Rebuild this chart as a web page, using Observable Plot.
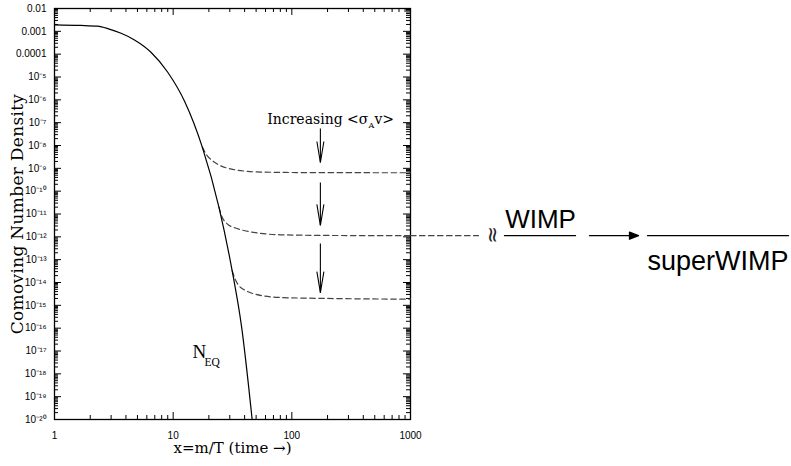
<!DOCTYPE html>
<html>
<head>
<meta charset="utf-8">
<script src="https://cdn.jsdelivr.net/npm/d3@7"></script>
<script src="https://cdn.jsdelivr.net/npm/@observablehq/plot@0.6"></script>
<style>
  html, body { margin: 0; padding: 0; background: #fff; }
  #chart svg { display: block; }
  .ylab text { letter-spacing: 0.3px; }
</style>
</head>
<body>
<div id="chart"></div>
<script>
// ---- axis ticks ----
const xMajor = [1, 10, 100, 1000];
const xLabels = ["1", "10", "100", "1000"];
const yMajor = [1e-20, 1e-19, 1e-18, 1e-17, 1e-16, 1e-15, 1e-14, 1e-13, 1e-12, 1e-11,
                1e-10, 1e-9, 1e-8, 1e-7, 1e-6, 1e-5, 1e-4, 1e-3, 1e-2];
const yLabels = ["10⁻²⁰", "10⁻¹⁹", "10⁻¹⁸", "10⁻¹⁷", "10⁻¹⁶", "10⁻¹⁵", "10⁻¹⁴", "10⁻¹³", "10⁻¹²", "10⁻¹¹",
                 "10⁻¹⁰", "10⁻⁹", "10⁻⁸", "10⁻⁷", "10⁻⁶", "10⁻⁵", "0.0001", "0.001", "0.01"];
const minorMultipliers = [2, 3, 4, 5, 6, 7, 8, 9];

// ---- equilibrium curve N_EQ (solid) ----
const eqX = [1, 1.66, 2.3, 2.85, 3.6, 4.72, 6.5, 9.0, 12.5, 17.6, 24.3, 31.4, 37.7, 46.3];
const eqY = [1.93e-3, 1.82e-3, 1.68e-3, 1.29e-3, 8.4e-4, 4.2e-4, 1.22e-4, 1.62e-5, 8.5e-7, 8.5e-9,
             2e-11, 3.3e-14, 1.17e-16, 1e-20];

// ---- freeze-out curves (dashed) ----
const fo1X = [17.6, 19.2, 21.3, 25, 30.4, 45, 58, 150, 1000];
const fo1Y = [8.5e-9, 3.8e-9, 2.2e-9, 1.3e-9, 9.5e-10, 7.2e-10, 6.8e-10, 6.5e-10, 6.4e-10];
const fo2X = [24.3, 25.9, 28.5, 33, 39.4, 80, 200, 1000];
const fo2Y = [2e-11, 7.2e-12, 3.7e-12, 2.5e-12, 1.9e-12, 1.23e-12, 1.15e-12, 1.12e-12];
const fo3X = [31.4, 33.3, 35.7, 40, 47.8, 80, 200, 1000];
const fo3Y = [3.3e-14, 1.4e-14, 7.4e-15, 4.7e-15, 3.2e-15, 2.2e-15, 2.0e-15, 1.86e-15];

// ---- "Increasing <σ_A v>" arrows ----
const arrowX = [174, 174, 174];
const arrowTop = [5.5e-8, 2.4e-10, 5.1e-13];
const arrowTip = [1.8e-9, 3.2e-12, 3.6e-15];

// ---- build tables ----
const xMinor = xMajor.slice(0, -1).flatMap(d => minorMultipliers.map(k => d * k));
const yMinor = yMajor.slice(0, -1).flatMap(d => minorMultipliers.map(k => d * k));
const toPts = (X, Y) => X.map((x, i) => ({x, y: Y[i]}));
const eq = toPts(eqX, eqY);
const fo = [toPts(fo1X, fo1Y), toPts(fo2X, fo2Y), toPts(fo3X, fo3Y)];
const arrows = arrowX.map((x, i) => ({x, y1: arrowTop[i], y2: arrowTip[i]}));
const wimpLevel = fo2Y[fo2Y.length - 1];
const xMax = xMajor[xMajor.length - 1];

const W = 791, H = 466, ML = 54, MR = 381, MT = 8, MB = 47;
const FW = W - ML - MR, FH = H - MT - MB;
const serif = "DejaVu Serif, serif";
const sans = "Liberation Sans, Arial, Helvetica, sans-serif";
const lineShape = {draw(ctx, l) { ctx.moveTo(0, 0); ctx.lineTo(0, -l); }};
const arrowShape = {draw(ctx, l) {
  ctx.moveTo(0, 0); ctx.lineTo(0, -l + 7);
  ctx.moveTo(-3.5, -l + 9); ctx.lineTo(0, -l); ctx.lineTo(3.5, -l + 9); ctx.closePath();
}};
const vHead = {draw(ctx) { ctx.moveTo(-3.5, -21); ctx.lineTo(0, 0); ctx.lineTo(3.5, -21); }};

// inward ticks (fixed pixel length via insets)
const tk = {stroke: "black", strokeWidth: 1};
const ticksY = (data, len) => [
  Plot.tickY(data, {y: d => d, insetRight: FW - len, ...tk}),
  Plot.tickY(data, {y: d => d, insetLeft: FW - len, ...tk})
];
const ticksX = (data, len) => [
  Plot.tickX(data, {x: d => d, insetTop: FH - len, ...tk}),
  Plot.tickX(data, {x: d => d, insetBottom: FH - len, ...tk})
];

const chart = Plot.plot({
  width: W,
  height: H,
  marginLeft: ML,
  marginRight: MR,
  marginTop: MT,
  marginBottom: MB,
  style: {background: "white", color: "black", overflow: "visible"},
  x: {type: "log", domain: [1, 1000]},
  y: {type: "log", domain: [1e-20, 1e-2]},
  marks: [
    ...ticksX(xMajor, 7),
    ...ticksX(xMinor, 4),
    ...ticksY(yMajor, 7),
    ...ticksY(yMinor, 4),
    // tick labels
    Plot.axisX(xMajor, {anchor: "bottom", tickSize: 0, tickPadding: 12, label: null,
      tickFormat: d => xLabels[xMajor.indexOf(d)], fontSize: 10, fontFamily: sans}),
    Plot.axisY(yMajor, {anchor: "left", tickSize: 0, tickPadding: 8, label: null,
      tickFormat: d => yLabels[yMajor.indexOf(d)], fontSize: 10, fontFamily: sans}),
    Plot.frame({stroke: "black", strokeWidth: 1.3}),
    // curves
    ...fo.map(pts => Plot.line(pts, {x: "x", y: "y", curve: "monotone-x", stroke: "#444",
      strokeWidth: 1.2, strokeDasharray: "5.5,3.5"})),
    Plot.line(eq, {x: "x", y: "y", curve: "monotone-x", stroke: "black", strokeWidth: 1.2}),
    // arrows
    Plot.link(arrows, {x1: "x", x2: "x", y1: "y1", y2: "y2", stroke: "black", strokeWidth: 1.1}),
    Plot.dot(arrows, {x: "x", y: "y2", symbol: vHead, r: 4, fill: "none", stroke: "black", strokeWidth: 1.1}),
    // annotations in the plot
    Plot.text(["Increasing <σ"], {x: arrowX[0], y: arrowTop[0], textAnchor: "end", lineAnchor: "bottom",
      dx: 48, dy: -5, fontFamily: serif, fontSize: 14}),
    Plot.text(["A"], {x: arrowX[0], y: arrowTop[0], textAnchor: "start", lineAnchor: "bottom",
      dx: 48, dy: -1, fontFamily: serif, fontSize: 8}),
    Plot.text(["v>"], {x: arrowX[0], y: arrowTop[0], textAnchor: "start", lineAnchor: "bottom",
      dx: 54, dy: -5, fontFamily: serif, fontSize: 14}),
    Plot.text(["N"], {x: 14.55, y: 5.1e-18, textAnchor: "start", lineAnchor: "bottom",
      fontFamily: "Liberation Serif, serif", fontSize: 19}),
    Plot.text(["EQ"], {x: 18.4, y: 2.3e-18, textAnchor: "start", lineAnchor: "bottom",
      fontFamily: "Liberation Serif, serif", fontSize: 11.5}),
    // axis titles
    Plot.text(["Comoving Number Density"], {frameAnchor: "left", textAnchor: "middle", rotate: -90, dx: -37,
      fontFamily: serif, fontSize: 17, className: "ylab"}),
    Plot.text(["x=m/T (time →)"], {frameAnchor: "bottom", textAnchor: "middle", dy: 33, fontFamily: serif, fontSize: 15}),
    // right-hand annotation: WIMP → superWIMP
    Plot.vector([0], {x: () => xMax, y: () => wimpLevel, rotate: 90, length: 68, anchor: "start",
      shape: lineShape, stroke: "#444", strokeWidth: 1.2, strokeDasharray: "5.5,3.5"}),
    Plot.text(["≈"], {x: () => xMax, y: () => wimpLevel, dx: 82, dy: -1, rotate: 90, fontSize: 21,
      fontFamily: "DejaVu Sans, sans-serif", fill: "#222"}),
    Plot.vector([0], {x: () => xMax, y: () => wimpLevel, rotate: 90, length: 71, anchor: "start",
      dx: 94, shape: lineShape, stroke: "black", strokeWidth: 1.3}),
    Plot.text(["WIMP"], {x: () => xMax, y: () => wimpLevel, dx: 130, dy: -8, lineAnchor: "bottom",
      fontFamily: sans, fontSize: 26}),
    Plot.vector([0], {x: () => xMax, y: () => wimpLevel, rotate: 90, length: 49, anchor: "start",
      dx: 179, shape: arrowShape, stroke: "black", fill: "black", strokeWidth: 1.3}),
    Plot.vector([0], {x: () => xMax, y: () => wimpLevel, rotate: 90, length: 141, anchor: "start",
      dx: 237, shape: lineShape, stroke: "black", strokeWidth: 1.3}),
    Plot.text(["superWIMP"], {x: () => xMax, y: () => wimpLevel, dx: 307.5, dy: 34, lineAnchor: "bottom",
      fontFamily: sans, fontSize: 27})
  ]
});
document.getElementById("chart").appendChild(chart);
</script>
</body>
</html>
